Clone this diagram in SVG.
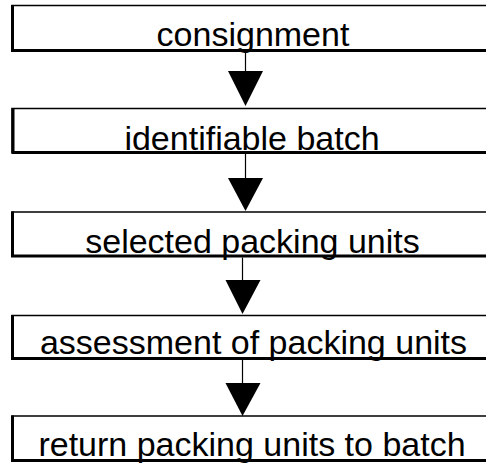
<svg xmlns="http://www.w3.org/2000/svg" width="486" height="464" viewBox="0 0 486 464">
<style>
.box{fill:#fff;stroke:#000;stroke-width:1.5}
.edge{fill:none;stroke:#000;stroke-width:3}
.lbl{font-family:"Liberation Sans",Arial,sans-serif;font-size:34px;fill:#000;text-anchor:middle}
.conn{stroke:#000;stroke-width:1.2;fill:none}
.head{fill:#000}
</style>
<rect width="486" height="464" fill="#fff"/>
<g id="node1">
<rect class="box" x="12" y="5.5" width="490" height="45"/>
<polyline class="edge" points="12.5,5 12.5,50.5 500,50.5"/>
<text class="lbl" x="253" y="46">consignment</text>
</g>
<g id="node2">
<rect class="box" x="12" y="108.5" width="490" height="44"/>
<polyline class="edge" points="13,108 13,152.5 500,152.5"/>
<text class="lbl" x="252" y="150">identifiable batch</text>
</g>
<g id="node3">
<rect class="box" x="12" y="212" width="490" height="44"/>
<polyline class="edge" points="12.5,211.5 12.5,256 500,256"/>
<text class="lbl" x="252.5" y="253">selected packing units</text>
</g>
<g id="node4">
<rect class="box" x="12" y="315.5" width="490" height="43"/>
<polyline class="edge" points="12.5,315 12.5,358.5 500,358.5"/>
<text class="lbl" x="253.5" y="354">assessment of packing units</text>
</g>
<g id="node5">
<rect class="box" x="12" y="416" width="490" height="44.5"/>
<polyline class="edge" points="12.5,415.5 12.5,460.5 500,460.5"/>
<text class="lbl" x="252" y="456">return packing units to batch</text>
</g>
<g id="connectors">
<line class="conn" x1="245.5" y1="52" x2="245.5" y2="71"/>
<polygon class="head" points="228,71 263,71 245.5,106"/>
<line class="conn" x1="245.5" y1="154" x2="245.5" y2="178"/>
<polygon class="head" points="228,178 263,178 245.5,211"/>
<line class="conn" x1="242.5" y1="257.5" x2="242.5" y2="280"/>
<polygon class="head" points="225.5,280 260.5,280 242.5,314"/>
<line class="conn" x1="242.5" y1="360" x2="242.5" y2="383"/>
<polygon class="head" points="225.5,383 260.5,383 242.5,416"/>
</g>
</svg>
